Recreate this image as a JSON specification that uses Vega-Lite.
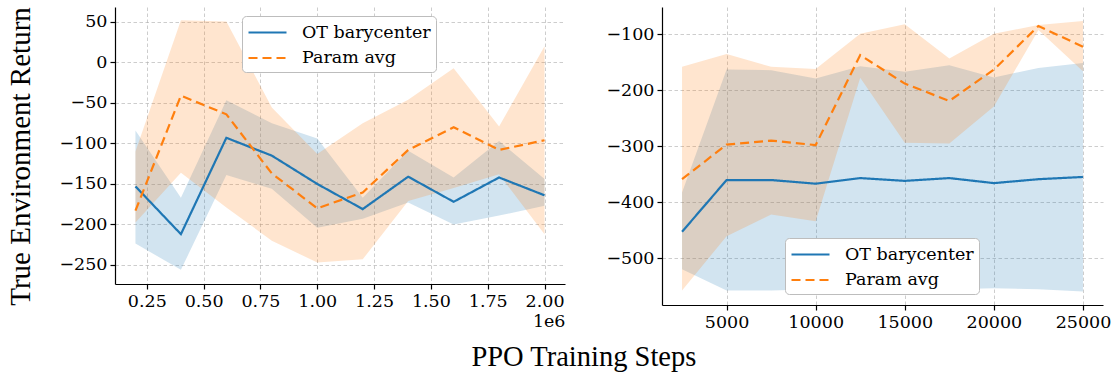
{
  "$schema": "https://vega.github.io/schema/vega-lite/v6.json",
  "padding": {"left": 6, "top": 6, "right": 3, "bottom": 3},
  "title": {"text": "PPO Training Steps", "orient": "bottom", "anchor": "middle", "font": "Liberation Serif", "fontSize": 28.5, "fontWeight": "normal", "color": "black", "offset": 12, "dx": 25},
  "datasets": {
    "left": [
      {"step": 200000, "series": "OT barycenter", "mean": -153, "lo": -223.5, "hi": -84},
      {"step": 400000, "series": "OT barycenter", "mean": -212, "lo": -256, "hi": -167},
      {"step": 600000, "series": "OT barycenter", "mean": -93, "lo": -139, "hi": -46.5},
      {"step": 800000, "series": "OT barycenter", "mean": -115, "lo": -156, "hi": -75},
      {"step": 1000000, "series": "OT barycenter", "mean": -150, "lo": -204, "hi": -94},
      {"step": 1200000, "series": "OT barycenter", "mean": -181, "lo": -193, "hi": -167},
      {"step": 1400000, "series": "OT barycenter", "mean": -141, "lo": -173, "hi": -109},
      {"step": 1600000, "series": "OT barycenter", "mean": -172, "lo": -200, "hi": -142},
      {"step": 1800000, "series": "OT barycenter", "mean": -142, "lo": -189, "hi": -97},
      {"step": 2000000, "series": "OT barycenter", "mean": -164, "lo": -177, "hi": -144},
      {"step": 200000, "series": "Param avg", "mean": -183, "lo": -197.5, "hi": -110},
      {"step": 400000, "series": "Param avg", "mean": -41, "lo": -136, "hi": 52},
      {"step": 600000, "series": "Param avg", "mean": -64, "lo": -179, "hi": 50.6},
      {"step": 800000, "series": "Param avg", "mean": -137, "lo": -220, "hi": -55.6},
      {"step": 1000000, "series": "Param avg", "mean": -180, "lo": -247, "hi": -113},
      {"step": 1200000, "series": "Param avg", "mean": -160.5, "lo": -243, "hi": -75},
      {"step": 1400000, "series": "Param avg", "mean": -108, "lo": -171, "hi": -46},
      {"step": 1600000, "series": "Param avg", "mean": -80, "lo": -155, "hi": -7},
      {"step": 1800000, "series": "Param avg", "mean": -108, "lo": -138, "hi": -79},
      {"step": 2000000, "series": "Param avg", "mean": -96, "lo": -212, "hi": 20}
    ],
    "right": [
      {"step": 2500, "series": "OT barycenter", "mean": -453, "lo": -520, "hi": -383},
      {"step": 5000, "series": "OT barycenter", "mean": -360.5, "lo": -558, "hi": -163},
      {"step": 7500, "series": "OT barycenter", "mean": -360.5, "lo": -558, "hi": -164},
      {"step": 10000, "series": "OT barycenter", "mean": -367, "lo": -556, "hi": -179},
      {"step": 12500, "series": "OT barycenter", "mean": -357, "lo": -556, "hi": -157},
      {"step": 15000, "series": "OT barycenter", "mean": -362, "lo": -556, "hi": -167},
      {"step": 17500, "series": "OT barycenter", "mean": -357, "lo": -556, "hi": -155},
      {"step": 20000, "series": "OT barycenter", "mean": -366, "lo": -554, "hi": -177},
      {"step": 22500, "series": "OT barycenter", "mean": -359, "lo": -556, "hi": -160},
      {"step": 25000, "series": "OT barycenter", "mean": -355, "lo": -560, "hi": -151},
      {"step": 2500, "series": "Param avg", "mean": -359, "lo": -558, "hi": -158},
      {"step": 5000, "series": "Param avg", "mean": -297, "lo": -461, "hi": -135},
      {"step": 7500, "series": "Param avg", "mean": -290, "lo": -422, "hi": -158},
      {"step": 10000, "series": "Param avg", "mean": -298, "lo": -434, "hi": -162},
      {"step": 12500, "series": "Param avg", "mean": -137, "lo": -177.5, "hi": -99},
      {"step": 15000, "series": "Param avg", "mean": -188, "lo": -294, "hi": -82},
      {"step": 17500, "series": "Param avg", "mean": -219, "lo": -295, "hi": -143},
      {"step": 20000, "series": "Param avg", "mean": -163, "lo": -229, "hi": -99},
      {"step": 22500, "series": "Param avg", "mean": -85, "lo": -92, "hi": -83},
      {"step": 25000, "series": "Param avg", "mean": -122, "lo": -166, "hi": -76}
    ]
  },
  "hconcat": [
    {
      "width": 450,
      "height": 277,
      "data": {"name": "left"},
      "layer": [
        {
          "mark": {"type": "area", "fillOpacity": 0.2, "strokeWidth": 0},
          "encoding": {
            "x": {"field": "step", "type": "quantitative", "title": "1e6",
              "scale": {"domain": [110000, 2090000], "nice": false, "zero": false},
              "axis": {"values": [250000, 500000, 750000, 1000000, 1250000, 1500000, 1750000, 2000000], "labelExpr": "format(datum.value / 1000000, '.2f')", "titleAnchor": "end", "titleFont": "DejaVu Serif", "titleFontSize": 17.5, "titleFontWeight": "normal", "titlePadding": 3}
            },
            "y": {"field": "hi", "type": "quantitative", "title": "True Environment Return",
              "scale": {"domain": [-273.5, 68.5], "nice": false, "zero": false},
              "axis": {"values": [50, 0, -50, -100, -150, -200, -250], "format": "d", "titleFont": "Liberation Serif", "titleFontSize": 29, "titleFontWeight": "normal", "titlePadding": 23, "titleY": 149}
            },
            "y2": {"field": "lo"},
            "fill": {"field": "series", "type": "nominal", "scale": {"domain": ["Param avg", "OT barycenter"], "range": ["#ff7f0e", "#1f77b4"]}, "legend": null}
          }
        },
        {
          "mark": {"type": "line", "strokeWidth": 2.2},
          "encoding": {
            "x": {"field": "step", "type": "quantitative", "title": "1e6"},
            "y": {"field": "mean", "type": "quantitative", "title": "True Environment Return"},
            "color": {"field": "series", "type": "nominal", "scale": {"domain": ["OT barycenter", "Param avg"], "range": ["#1f77b4", "#ff7f0e"]},
              "legend": {"title": null, "legendX": 127, "legendY": 9}},
            "strokeDash": {"field": "series", "type": "nominal", "scale": {"domain": ["OT barycenter", "Param avg"], "range": [[1, 0], [9, 5]]},
              "legend": {"title": null, "legendX": 127, "legendY": 9}}
          }
        }
      ]
    },
    {
      "width": 441,
      "height": 298,
      "data": {"name": "right"},
      "layer": [
        {
          "mark": {"type": "area", "fillOpacity": 0.2, "strokeWidth": 0},
          "encoding": {
            "x": {"field": "step", "type": "quantitative", "title": null,
              "scale": {"domain": [1375, 26125], "nice": false, "zero": false},
              "axis": {"values": [5000, 10000, 15000, 20000, 25000], "format": "d"}
            },
            "y": {"field": "hi", "type": "quantitative", "title": null,
              "scale": {"domain": [-584, -51], "nice": false, "zero": false},
              "axis": {"values": [-100, -200, -300, -400, -500], "format": "d"}
            },
            "y2": {"field": "lo"},
            "fill": {"field": "series", "type": "nominal", "scale": {"domain": ["Param avg", "OT barycenter"], "range": ["#ff7f0e", "#1f77b4"]}, "legend": null}
          }
        },
        {
          "mark": {"type": "line", "strokeWidth": 2.2},
          "encoding": {
            "x": {"field": "step", "type": "quantitative", "title": null},
            "y": {"field": "mean", "type": "quantitative", "title": null},
            "color": {"field": "series", "type": "nominal", "scale": {"domain": ["OT barycenter", "Param avg"], "range": ["#1f77b4", "#ff7f0e"]},
              "legend": {"title": null, "legendX": 123, "legendY": 231}},
            "strokeDash": {"field": "series", "type": "nominal", "scale": {"domain": ["OT barycenter", "Param avg"], "range": [[1, 0], [9, 5]]},
              "legend": {"title": null, "legendX": 123, "legendY": 231}}
          }
        }
      ]
    }
  ],
  "spacing": 40,
  "resolve": {
    "scale": {"x": "independent", "y": "independent", "color": "independent", "strokeDash": "independent", "fill": "independent"},
    "legend": {"color": "independent", "strokeDash": "independent"}
  },
  "config": {
    "view": {"stroke": null},
    "axis": {
      "labelFont": "DejaVu Serif", "labelFontSize": 17.5, "labelColor": "black",
      "domainColor": "black", "domainWidth": 1.2, "tickColor": "black", "tickWidth": 1.2, "tickSize": 5,
      "labelPadding": 3, "grid": true, "gridColor": "#b0b0b0", "gridOpacity": 0.7, "gridDash": [3.5, 2.5], "gridWidth": 0.9,
      "titleColor": "black", "labelFlush": false, "labelOverlap": false
    },
    "legend": {
      "orient": "none",
      "symbolType": "M-1.9,0H1.9", "symbolSize": 400, "symbolStrokeWidth": 2.2, "symbolOffset": 9,
      "labelFont": "DejaVu Serif", "labelFontSize": 17.5, "labelColor": "black", "labelOffset": 23,
      "padding": 5, "rowPadding": 5.5,
      "fillColor": "white", "strokeColor": "#bdbdbd", "cornerRadius": 4
    }
  }
}
